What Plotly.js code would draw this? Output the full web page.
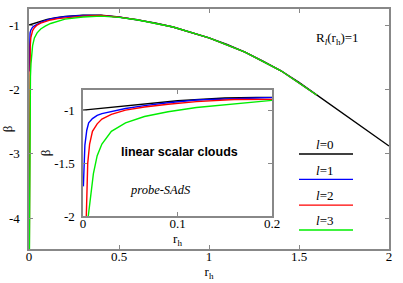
<!DOCTYPE html>
<html>
<head>
<meta charset="utf-8">
<script src="https://cdn.plot.ly/plotly-3.0.1.min.js"></script>
<style>html,body{margin:0;padding:0;background:#fff;}#chart{width:403px;height:283px;}</style>
</head>
<body>
<div id="chart"></div>
<script>
// l = 0 (black)
const r0 = [0, 0.02, 0.05, 0.1, 0.15, 0.2, 0.3, 0.35, 0.4, 0.5, 0.6, 0.7, 0.8, 0.9, 1.0, 1.1, 1.2, 1.3, 1.4, 1.5, 1.6, 1.7, 1.8, 1.9, 2.0];
const b0 = [-1, -0.982, -0.955, -0.912, -0.885, -0.865, -0.848, -0.845, -0.847, -0.875, -0.915, -0.965, -1.03, -1.11, -1.2, -1.3, -1.42, -1.56, -1.71, -1.89, -2.09, -2.28, -2.48, -2.68, -2.88];
// l = 1 (blue)
const r1 = [0.0004, 0.001, 0.002, 0.004, 0.006, 0.01, 0.015, 0.02, 0.03, 0.045, 0.065, 0.09, 0.12, 0.16, 0.2, 0.3, 0.4, 0.5, 0.6, 0.8, 1.0, 1.2, 1.4, 1.6];
const b1 = [-1.72, -1.5, -1.33, -1.19, -1.12, -1.08, -1.05, -1.033, -1.012, -0.985, -0.958, -0.93, -0.905, -0.885, -0.87, -0.851, -0.849, -0.876, -0.915, -1.03, -1.2, -1.42, -1.71, -2.09];
// l = 2 (red)
const r2 = [0.0015, 0.0025, 0.0035, 0.005, 0.007, 0.01, 0.015, 0.02, 0.03, 0.045, 0.065, 0.09, 0.12, 0.16, 0.2, 0.3, 0.4, 0.5, 0.6, 0.8, 1.0, 1.2, 1.4, 1.6];
const b2 = [-4.6, -2.7, -2.0, -1.5, -1.32, -1.2, -1.13, -1.085, -1.04, -1.0, -0.97, -0.945, -0.92, -0.9, -0.887, -0.86, -0.852, -0.877, -0.916, -1.03, -1.2, -1.42, -1.71, -2.09];
// l = 3 (green)
const r3 = [0.002, 0.003, 0.004, 0.0056, 0.008, 0.011, 0.015, 0.02, 0.03, 0.045, 0.065, 0.09, 0.12, 0.16, 0.2, 0.3, 0.4, 0.5, 0.6, 0.8, 1.0, 1.2, 1.4, 1.6];
const b3 = [-4.7, -3.2, -2.5, -2.0, -1.8, -1.6, -1.43, -1.32, -1.2, -1.12, -1.06, -1.015, -0.975, -0.94, -0.908, -0.875, -0.86, -0.88, -0.917, -1.03, -1.2, -1.42, -1.71, -2.09];

const seriesR = [r0, r1, r2, r3];
const seriesB = [b0, b1, b2, b3];
const colors = ['#000000', '#0000ff', '#ff0000', '#00ee00'];
const labels = ['<i>l</i>=0', '<i>l</i>=1', '<i>l</i>=2', '<i>l</i>=3'];

const mainXTicks = [0, 0.5, 1, 1.5, 2];
const mainYTicks = [-1, -2, -3, -4];
const insetXTicks = [0, 0.1, 0.2];
const insetYTicks = [-1, -1.5, -2];

const traces = [];
for (let i = 0; i < 4; i++) {
  traces.push({x: seriesR[i], y: seriesB[i], type: 'scatter', mode: 'lines',
    line: {color: colors[i], width: 1.4}, xaxis: 'x', yaxis: 'y', showlegend: false, name: labels[i]});
}
for (let i = 0; i < 4; i++) {
  traces.push({x: seriesR[i], y: seriesB[i], type: 'scatter', mode: 'lines',
    line: {color: colors[i], width: 1.4}, xaxis: 'x2', yaxis: 'y2', showlegend: false, name: labels[i]});
}

const serif = 'Liberation Serif';
const axisCommon = {
  showgrid: false, zeroline: false, showline: true, linecolor: '#888', linewidth: 1.6,
  mirror: 'ticks', ticks: 'inside', ticklen: 4, tickcolor: '#888', tickwidth: 1,
  tickfont: {family: serif, size: 13, color: '#000'}
};

const shapes = [];
const annotations = [];
const lx0 = 0.75, lx1 = 0.9;
const lineY = [0.396, 0.29, 0.183, 0.079];
for (let i = 0; i < 4; i++) {
  shapes.push({type: 'line', xref: 'paper', yref: 'paper', x0: lx0, x1: lx1, y0: lineY[i], y1: lineY[i],
    line: {color: colors[i], width: 1.4}});
  annotations.push({xref: 'paper', yref: 'paper', x: 0.822, y: lineY[i] + 0.038, text: labels[i],
    showarrow: false, xanchor: 'center', yanchor: 'middle', font: {family: serif, size: 13, color: '#000'}});
}
annotations.push({xref: 'paper', yref: 'paper', x: 0.856, y: 0.879, text: 'R<sub><i>l</i></sub>(r<sub>h</sub>)=1',
  showarrow: false, xanchor: 'center', yanchor: 'middle', font: {family: serif, size: 13, color: '#000'}});
annotations.push({xref: 'paper', yref: 'paper', x: 0.419, y: 0.404, text: '<b>linear scalar clouds</b>',
  showarrow: false, xanchor: 'center', yanchor: 'middle', font: {family: 'Liberation Sans', size: 12.5, color: '#000'}});
annotations.push({xref: 'paper', yref: 'paper', x: 0.364, y: 0.246, text: '<i>probe-SAdS</i>',
  showarrow: false, xanchor: 'center', yanchor: 'middle', font: {family: serif, size: 12.5, color: '#000'}});

const layout = {
  width: 403, height: 283,
  margin: {l: 29, r: 14, t: 9, b: 34},
  paper_bgcolor: '#fff', plot_bgcolor: '#fff',
  showlegend: false,
  xaxis: Object.assign({}, axisCommon, {range: [0, 2], tickvals: mainXTicks, ticktext: ['0', '0.5', '1', '1.5', '2'],
    domain: [0, 1], anchor: 'y', ticklabelstandoff: -5,
    title: {text: 'r<sub>h</sub>', font: {family: serif, size: 13, color: '#000'}, standoff: 3}}),
  yaxis: Object.assign({}, axisCommon, {range: [-4.48, -0.75], tickvals: mainYTicks, ticktext: ['-1', '-2', '-3', '-4'],
    domain: [0, 1], anchor: 'x', ticklabelstandoff: 5,
    title: {text: 'β', font: {family: serif, size: 13, color: '#000'}, standoff: 4}}),
  xaxis2: Object.assign({}, axisCommon, {range: [0, 0.2], tickvals: insetXTicks, ticktext: ['0', '0.1', '0.2'],
    domain: [0.15, 0.675], anchor: 'y2', ticklabelstandoff: -5,
    title: {text: 'r<sub>h</sub>', font: {family: serif, size: 13, color: '#000'}, standoff: 0}}),
  yaxis2: Object.assign({}, axisCommon, {range: [-2, -0.81], tickvals: insetYTicks, ticktext: ['-1', '-1.5', '-2'],
    domain: [0.1375, 0.6625], anchor: 'x2', ticklabelstandoff: 4,
    title: {text: 'β', font: {family: serif, size: 13, color: '#000'}, standoff: 0}}),
  shapes: shapes,
  annotations: annotations
};

Plotly.newPlot('chart', traces, layout, {staticPlot: true, displayModeBar: false});
</script>
</body>
</html>
